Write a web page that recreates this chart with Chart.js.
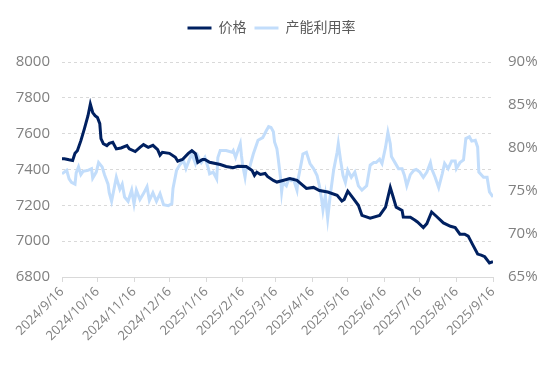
<!DOCTYPE html>
<html>
<head>
<meta charset="utf-8">
<script src="https://cdn.jsdelivr.net/npm/chart.js@4.4.0/dist/chart.umd.min.js"></script>
<style>
  html, body { margin: 0; padding: 0; background: #fff; }
  #wrap { width: 543px; height: 378px; }
</style>
</head>
<body>
<div id="wrap"><canvas id="chart"></canvas></div>
<script>
// days counted from 2024/9/16
const tickDays = [0, 30, 61, 91, 122, 153, 181, 212, 242, 273, 303, 334, 365];
const tickLabels = ['2024/9/16', '2024/10/16', '2024/11/16', '2024/12/16', '2025/1/16', '2025/2/16',
  '2025/3/16', '2025/4/16', '2025/5/16', '2025/6/16', '2025/7/16', '2025/8/16', '2025/9/16'];

const priceDays = [0, 2, 6, 9, 11, 13, 16, 19, 22, 24, 26, 28, 30, 32, 33, 35, 38, 40, 43, 46, 50, 55, 57, 62,
  66, 69, 73, 77, 81, 83, 85, 91, 96, 98, 102, 107, 110, 113, 115, 119, 121, 125, 134, 139, 145, 149, 156,
  161, 163, 165, 168, 172, 174, 179, 182, 187, 193, 199, 204, 207, 213, 218, 225, 233, 237, 239, 242, 246,
  251, 254, 261, 269, 274, 278, 280, 283, 288, 289, 295, 299, 301, 306, 309, 313, 317, 323, 329, 333, 337,
  341, 344, 348, 352, 355, 358, 362, 365];
const priceValues = [7460, 7460, 7454, 7450, 7490, 7505, 7561, 7628, 7700, 7765, 7718, 7700, 7690, 7656, 7572,
  7544, 7533, 7546, 7552, 7515, 7520, 7533, 7515, 7500, 7524, 7539, 7524, 7535, 7511, 7480, 7496, 7490, 7468,
  7446, 7456, 7490, 7505, 7489, 7440, 7456, 7456, 7440, 7428, 7417, 7410, 7418, 7417, 7394, 7367, 7385, 7372,
  7378, 7361, 7339, 7330, 7339, 7350, 7339, 7311, 7294, 7300, 7283, 7274, 7256, 7224, 7233, 7279, 7244, 7200,
  7144, 7128, 7144, 7190, 7300, 7256, 7190, 7172, 7135, 7133, 7117, 7107, 7076, 7098, 7163, 7139, 7102, 7083,
  7076, 7039, 7039, 7028, 6978, 6928, 6922, 6913, 6878, 6885];

const rateDays = [0, 4, 6, 8, 11, 12, 14, 16, 18, 22, 25, 26, 29, 31, 34, 36, 39, 40, 42, 44, 46, 49, 51, 53,
  56, 59, 61, 63, 66, 69, 72, 74, 77, 80, 83, 86, 90, 93, 94, 97, 100, 103, 105, 108, 110, 113, 115, 118, 121,
  124, 125, 128, 131, 132, 134, 139, 144, 145, 147, 149, 151, 152, 153, 155, 156, 159, 162, 166, 170, 173, 175,
  177, 179, 180, 182, 183, 185, 186, 187, 190, 192, 194, 196, 199, 200, 203, 204, 207, 210, 213, 216, 218, 220,
  221, 223, 225, 227, 230, 233, 234, 236, 238, 240, 242, 245, 248, 251, 254, 258, 261, 264, 266, 269, 271, 274,
  276, 278, 279, 282, 285, 288, 290, 292, 295, 298, 300, 303, 306, 309, 312, 313, 316, 319, 322, 324, 327, 330,
  333, 334, 337, 340, 342, 345, 347, 350, 352, 353, 357, 360, 362, 365];
const rateValues = [77.0, 77.4, 76.4, 76.0, 75.8, 77.1, 77.8, 76.9, 77.3, 77.4, 77.6, 76.5, 77.2, 78.3, 77.8,
  76.9, 75.8, 74.8, 73.8, 75.2, 76.6, 75.2, 75.8, 74.3, 73.8, 75.1, 73.5, 75.1, 74.0, 74.7, 75.5, 73.9, 74.8,
  73.8, 74.7, 73.4, 73.3, 73.5, 75.3, 77.4, 78.1, 78.5, 77.6, 78.7, 79.3, 78.2, 79.1, 78.3, 78.9, 77.6, 77.0,
  77.2, 76.4, 78.9, 79.7, 79.7, 79.5, 79.7, 78.9, 79.7, 80.5, 79.1, 78.0, 76.6, 77.6, 77.8, 79.3, 80.9, 81.2,
  82.0, 82.5, 82.4, 81.9, 80.7, 79.9, 78.9, 76.6, 74.9, 76.0, 75.6, 76.4, 76.2, 76.4, 75.1, 76.4, 78.5, 79.3,
  79.5, 78.2, 77.6, 76.8, 75.6, 73.9, 72.8, 74.5, 71.8, 74.3, 77.4, 79.5, 80.5, 78.5, 76.8, 76.0, 77.4, 76.6,
  77.2, 75.6, 75.1, 75.6, 78.0, 78.3, 78.3, 78.7, 78.2, 80.1, 81.8, 80.5, 79.0, 78.3, 77.6, 77.6, 76.8, 75.6,
  76.9, 77.4, 77.5, 77.2, 76.6, 77.2, 78.3, 77.6, 76.6, 75.4, 77.0, 78.2, 77.6, 78.5, 78.5, 77.6, 78.3, 78.6,
  81.1, 81.3, 80.8, 80.9, 80.1, 77.2, 76.6, 76.6, 74.9, 74.3];

const fontFamily = '"Open Sans", "Noto Sans CJK SC", sans-serif';
const gray = '#808080';

// extra room under the legend
const legendGap = {
  id: 'legendGap',
  beforeInit(chart) {
    const fit = chart.legend.fit;
    chart.legend.fit = function () {
      fit.bind(chart.legend)();
      this.height += 17;
    };
  }
};

const ctx = document.getElementById('chart');

new Chart(ctx, {
  type: 'line',
  data: {
    datasets: [{
      label: '价格',
      data: priceDays.map((d, i) => ({ x: d, y: priceValues[i] })),
      borderColor: '#002060',
      backgroundColor: '#002060',
      borderWidth: 3,
      pointRadius: 0,
      tension: 0,
      yAxisID: 'y'
    }, {
      label: '产能利用率',
      data: rateDays.map((d, i) => ({ x: d, y: rateValues[i] })),
      borderColor: '#c2ddfb',
      backgroundColor: '#c2ddfb',
      borderWidth: 3,
      pointRadius: 0,
      tension: 0,
      yAxisID: 'y1'
    }]
  },
  options: {
    responsive: true,
    maintainAspectRatio: false,
    animation: false,
    layout: { padding: { top: 13, left: 0, right: 0, bottom: 0 } },
    plugins: {
      legend: {
        position: 'top',
        labels: {
          usePointStyle: true,
          pointStyle: 'line',
          pointStyleWidth: 24,
          color: '#595959',
          font: { family: fontFamily, size: 14 },
          padding: 8
        }
      },
      tooltip: { enabled: false }
    },
    scales: {
      x: {
        type: 'linear',
        min: 0,
        max: 365,
        afterBuildTicks: scale => {
          scale.ticks = tickDays.map(v => ({ value: v }));
        },
        afterFit: scale => { scale.height = 101; },
        ticks: {
          autoSkip: false,
          minRotation: 45,
          maxRotation: 45,
          padding: 2,
          color: gray,
          font: { family: fontFamily, size: 13 },
          callback: (v, i) => tickLabels[i]
        },
        grid: { drawOnChartArea: false, tickLength: 5, color: '#d9d9d9' },
        border: { color: '#d9d9d9', width: 1 }
      },
      y: {
        position: 'left',
        min: 6800,
        max: 8000,
        afterFit: scale => { scale.width = 62; },
        ticks: {
          stepSize: 200,
          padding: 12,
          color: gray,
          font: { family: fontFamily, size: 15 },
          callback: v => String(v)
        },
        grid: {
          drawTicks: false,
          color: '#d9d9d9',
          lineWidth: 1
        },
        border: { display: false, dash: [3, 3] }
      },
      y1: {
        position: 'right',
        min: 65,
        max: 90,
        afterFit: scale => { scale.width = 50; },
        ticks: {
          stepSize: 5,
          padding: 15,
          color: gray,
          font: { family: fontFamily, size: 15 },
          callback: v => v + '%'
        },
        grid: { drawOnChartArea: false, drawTicks: false },
        border: { display: false }
      }
    }
  },
  plugins: [legendGap]
});
</script>
</body>
</html>
